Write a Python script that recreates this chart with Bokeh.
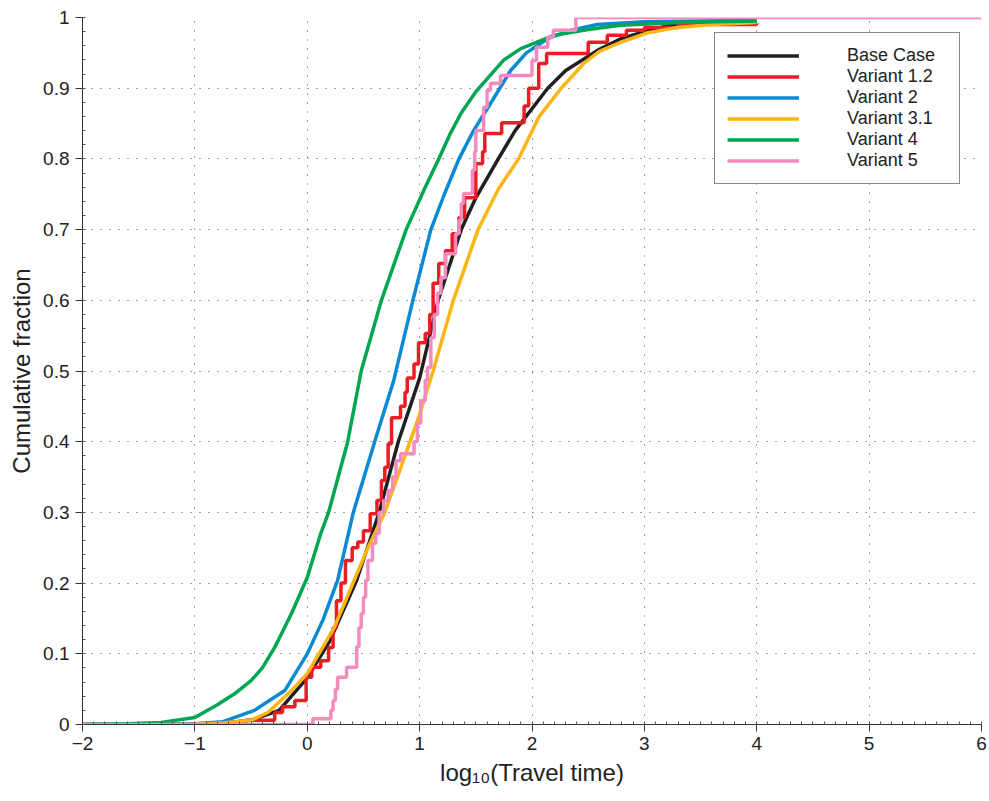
from bokeh.plotting import figure
from bokeh.models import Legend, LegendItem, FixedTicker
from bokeh.embed import file_html
from bokeh.resources import INLINE

# ---- data ----
base_x = [-2.0, -1.5, -1.0, -0.75, -0.5, -0.25, 0.0, 0.2, 0.44, 0.64, 0.81, 1.0, 1.165, 1.37, 1.5, 1.7, 1.85, 2.14, 2.3, 2.6, 2.79, 3.0, 3.2, 3.5, 4.0]
base_y = [0.0, 0.0, 0.0005, 0.002, 0.006, 0.02, 0.066, 0.118, 0.204, 0.30, 0.40, 0.49, 0.60, 0.70, 0.745, 0.80, 0.84, 0.90, 0.925, 0.955, 0.97, 0.98, 0.988, 0.991, 0.993]

v31_x = [-2.0, -1.5, -1.0, -0.75, -0.5, -0.35, -0.14, 0.0, 0.24, 0.54, 0.69, 0.99, 1.12, 1.30, 1.52, 1.7, 1.88, 2.06, 2.26, 2.46, 2.6, 2.79, 3.02, 3.3, 3.6, 4.0]
v31_y = [0.0, 0.0, 0.0005, 0.002, 0.006, 0.017, 0.048, 0.072, 0.137, 0.25, 0.30, 0.434, 0.50, 0.60, 0.70, 0.757, 0.80, 0.859, 0.90, 0.935, 0.952, 0.965, 0.978, 0.986, 0.99, 0.993]

v2_x = [-2.0, -1.5, -1.0, -0.75, -0.47, -0.20, 0.0, 0.14, 0.27, 0.41, 0.60, 0.77, 0.94, 1.10, 1.22, 1.35, 1.48, 1.61, 1.81, 1.95, 2.14, 2.35, 2.58, 3.0, 4.0]
v2_y = [0.0, 0.0, 0.001, 0.004, 0.02, 0.048, 0.10, 0.148, 0.204, 0.30, 0.40, 0.487, 0.60, 0.70, 0.75, 0.80, 0.84, 0.873, 0.925, 0.95, 0.97, 0.982, 0.99, 0.994, 0.996]

v4_x = [-2.0, -1.6, -1.3, -1.0, -0.8, -0.65, -0.5, -0.4, -0.29, -0.14, 0.0, 0.12, 0.19, 0.36, 0.48, 0.66, 0.88, 1.05, 1.17, 1.27, 1.37, 1.5, 1.61, 1.75, 1.90, 2.20, 2.5, 2.79, 3.3, 4.0]
v4_y = [0.0, 0.001, 0.003, 0.01, 0.028, 0.043, 0.062, 0.08, 0.109, 0.157, 0.208, 0.27, 0.30, 0.40, 0.50, 0.60, 0.70, 0.76, 0.80, 0.835, 0.865, 0.895, 0.915, 0.94, 0.956, 0.975, 0.983, 0.989, 0.993, 0.995]

v12_x = [-2.0, -0.55, -0.29, -0.22, -0.11, -0.01, 0.04, 0.12, 0.19, 0.23, 0.26, 0.30, 0.34, 0.40, 0.45, 0.50, 0.56, 0.62, 0.66, 0.69, 0.72, 0.75, 0.83, 0.87, 0.89, 0.95, 0.99, 1.05, 1.09, 1.12, 1.17, 1.23, 1.29, 1.35, 1.40, 1.50, 1.56, 1.58, 1.73, 1.93, 1.97, 2.06, 2.13, 2.50, 2.67, 2.84, 3.0, 3.3, 4.0]
v12_y = [0.0, 0.006, 0.017, 0.025, 0.034, 0.067, 0.081, 0.09, 0.109, 0.137, 0.175, 0.20, 0.232, 0.25, 0.258, 0.274, 0.298, 0.317, 0.345, 0.364, 0.397, 0.434, 0.45, 0.47, 0.49, 0.51, 0.54, 0.553, 0.58, 0.624, 0.652, 0.67, 0.694, 0.717, 0.745, 0.793, 0.81, 0.836, 0.851, 0.875, 0.90, 0.935, 0.949, 0.965, 0.975, 0.982, 0.986, 0.99, 0.992]

v5_x = [-2.0, 0.05, 0.21, 0.23, 0.25, 0.27, 0.35, 0.44, 0.46, 0.48, 0.50, 0.52, 0.54, 0.58, 0.61, 0.64, 0.68, 0.72, 0.76, 0.79, 0.83, 0.95, 0.98, 1.01, 1.05, 1.07, 1.10, 1.13, 1.16, 1.19, 1.23, 1.32, 1.35, 1.37, 1.39, 1.47, 1.49, 1.50, 1.57, 1.60, 1.63, 1.72, 2.00, 2.04, 2.14, 2.19, 2.39, 6.0]
v5_y = [0.0, 0.008, 0.02, 0.034, 0.05, 0.067, 0.081, 0.11, 0.137, 0.157, 0.18, 0.204, 0.232, 0.256, 0.27, 0.30, 0.317, 0.331, 0.35, 0.373, 0.383, 0.40, 0.426, 0.458, 0.487, 0.505, 0.547, 0.58, 0.61, 0.632, 0.666, 0.694, 0.713, 0.737, 0.751, 0.784, 0.81, 0.84, 0.873, 0.897, 0.907, 0.918, 0.939, 0.958, 0.972, 0.982, 1.0, 1.0]

series_names = ["Base Case", "Variant 1.2", "Variant 2", "Variant 3.1", "Variant 4", "Variant 5"]
x_ticks = [-2, -1, 0, 1, 2, 3, 4, 5, 6]
x_tick_labels = ["\u22122", "\u22121", "0", "1", "2", "3", "4", "5", "6"]
y_ticks = [0, 0.1, 0.2, 0.3, 0.4, 0.5, 0.6, 0.7, 0.8, 0.9, 1.0]
y_tick_labels = ["0", "0.1", "0.2", "0.3", "0.4", "0.5", "0.6", "0.7", "0.8", "0.9", "1"]

colors = {"Base Case": "#231f20", "Variant 1.2": "#ed1c24", "Variant 2": "#0b8ad3",
          "Variant 3.1": "#fdb515", "Variant 4": "#00a651", "Variant 5": "#f28cbf"}

FONT = "Liberation Sans"

p = figure(width=989, height=801, x_range=(-2, 6), y_range=(0, 1),
           output_backend="svg", toolbar_location=None,
           min_border_left=82, min_border_right=8, min_border_top=17, min_border_bottom=77)
p.outline_line_color = None
p.background_fill_color = "white"
p.border_fill_color = "white"

for g in (p.xgrid, p.ygrid):
    g.grid_line_color = "#444444"
    g.grid_line_dash = "1 8"
    g.grid_line_width = 1

p.xaxis.ticker = FixedTicker(ticks=x_ticks, minor_ticks=[(-2 + i * 0.1) for i in range(81)])
p.yaxis.ticker = FixedTicker(ticks=y_ticks, minor_ticks=[(i * 0.02) for i in range(51)])
p.xaxis.major_label_overrides = {t: l for t, l in zip(x_ticks, x_tick_labels)}
p.yaxis.major_label_overrides = {t: l for t, l in zip(y_ticks, y_tick_labels)}

for ax in (p.xaxis[0], p.yaxis[0]):
    ax.axis_line_color = "#333333"
    ax.axis_line_width = 1
    ax.major_tick_line_color = "#333333"
    ax.major_tick_out = 7
    ax.major_tick_in = 0
    ax.minor_tick_line_color = "#555555"
    ax.minor_tick_in = 3
    ax.minor_tick_out = 0
    ax.major_label_text_font = FONT
    ax.major_label_text_font_size = "19px"
    ax.major_label_text_color = "#222222"
    ax.axis_label_text_font = FONT
    ax.axis_label_text_font_size = "24px"
    ax.axis_label_text_font_style = "normal"
    ax.axis_label_text_color = "#222222"

p.xaxis.major_label_standoff = 5
p.yaxis.major_label_standoff = 6
p.xaxis.axis_label = "log\u2081\u2080(Travel time)"
p.yaxis.axis_label = "Cumulative fraction"
p.xaxis.axis_label_standoff = 6
p.yaxis.axis_label_standoff = 5

LW = 3.5
r_base = p.line(base_x, base_y, line_color=colors["Base Case"], line_width=LW, line_join="round")
r_v12 = p.step(v12_x, v12_y, mode="after", line_color=colors["Variant 1.2"], line_width=LW)
r_v2 = p.line(v2_x, v2_y, line_color=colors["Variant 2"], line_width=LW, line_join="round")
r_v31 = p.line(v31_x, v31_y, line_color=colors["Variant 3.1"], line_width=LW, line_join="round")
r_v4 = p.line(v4_x, v4_y, line_color=colors["Variant 4"], line_width=LW, line_join="round")
r_v5 = p.step(v5_x, v5_y, mode="after", line_color=colors["Variant 5"], line_width=LW)

renderers = [r_base, r_v12, r_v2, r_v31, r_v4, r_v5]
items = [LegendItem(label=n, renderers=[r]) for n, r in zip(series_names, renderers)]
legend = Legend(items=items, location=(632, 540), orientation="vertical")
legend.border_line_color = "#111111"
legend.border_line_width = 1.5
legend.background_fill_color = "white"
legend.background_fill_alpha = 1
legend.padding = 12
legend.margin = 0
legend.spacing = 0
legend.glyph_width = 72
legend.glyph_height = 21
legend.label_height = 21
legend.label_standoff = 48
legend.label_width = 100
legend.label_text_font = FONT
legend.label_text_font_size = "18px"
legend.label_text_color = "#222222"
p.add_layout(legend, "center")

open("out.html", "w").write(file_html(p, INLINE))
